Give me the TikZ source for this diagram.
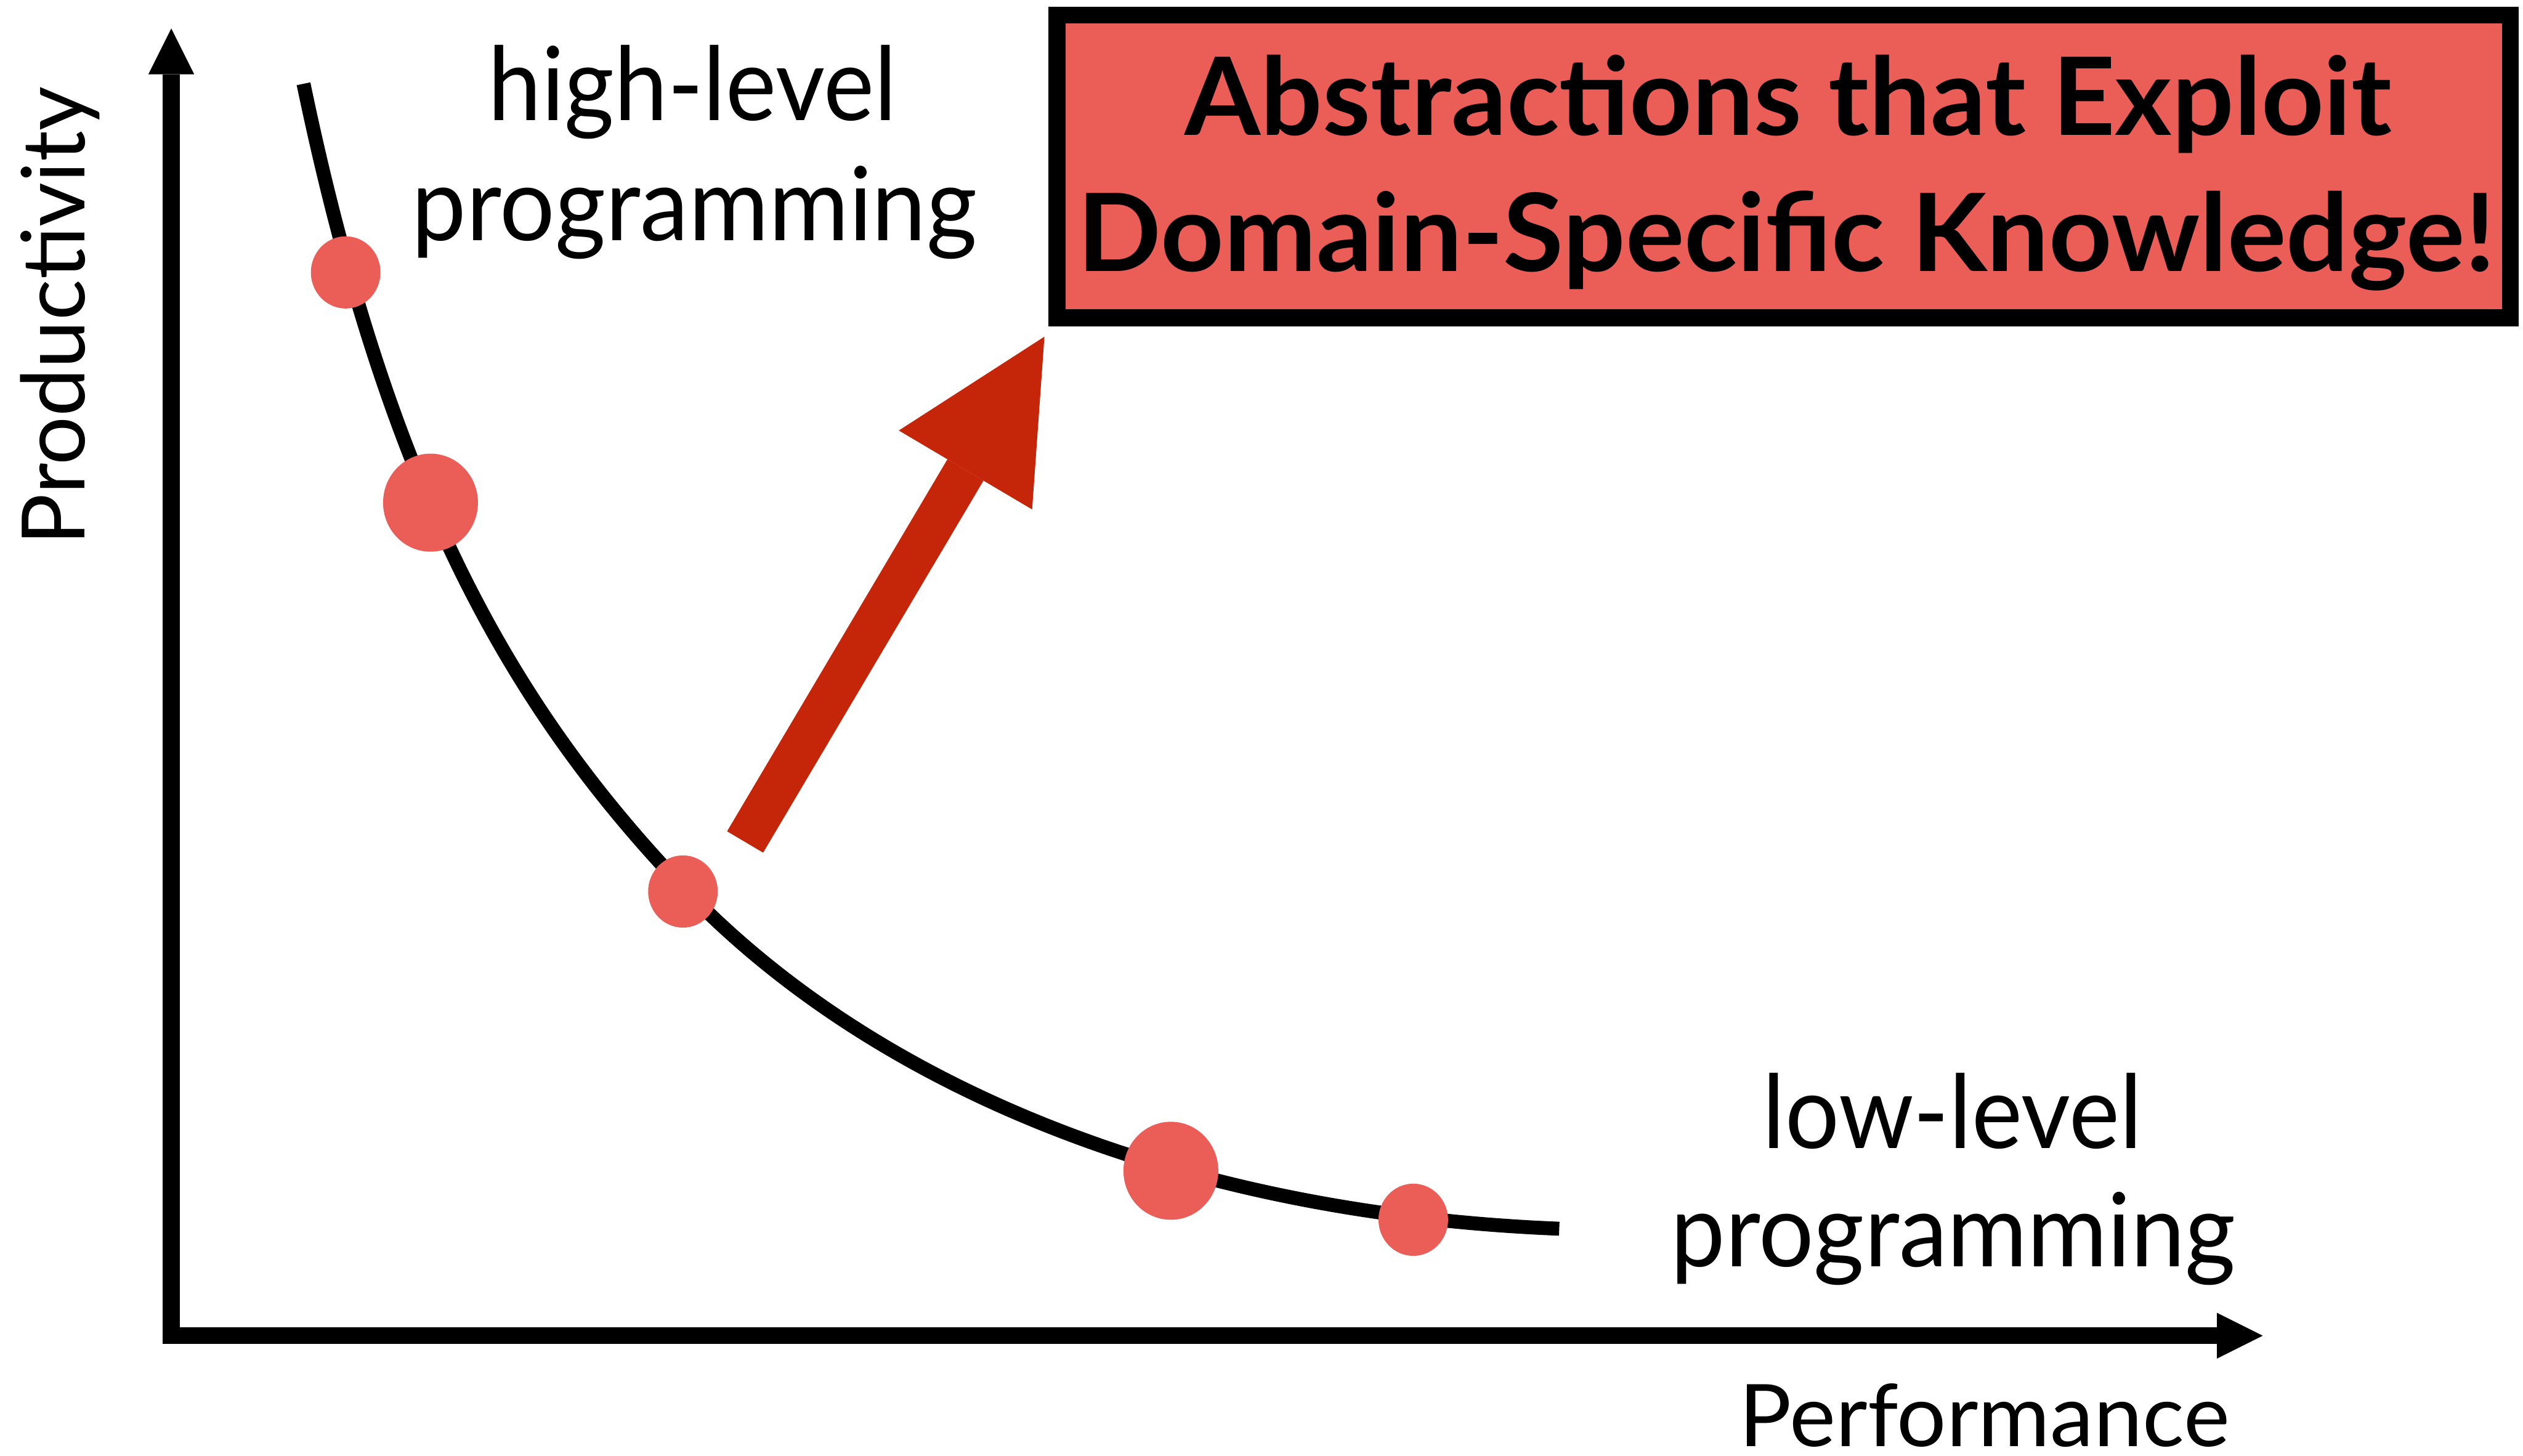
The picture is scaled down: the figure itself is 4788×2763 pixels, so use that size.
\documentclass[tikz,border=0pt]{standalone}
\usepackage{fontspec}
\setmainfont{Lato}
\usepackage{graphicx}
\usetikzlibrary{arrows.meta,shapes.geometric}
\definecolor{dotred}{RGB}{235,94,88}
\definecolor{gainred}{RGB}{197,37,8}
% stretch a text horizontally to a given width, keeping its height
\newcommand\fitto[2]{\resizebox{#1}{\height}{#2}}
\begin{document}
\begin{tikzpicture}[x=1pt,y=-1pt,
  axis/.style={line width=32pt, line join=miter,
    >={Triangle[length=87pt,width=87pt,line width=0pt]}, <->},
  tradeoff/.style={line width=26.5pt, line cap=butt},
  dotsmall/.style={ellipse, fill=dotred, inner sep=0pt,
    minimum width=132pt, minimum height=137pt},
  dotbig/.style={ellipse, fill=dotred, inner sep=0pt,
    minimum width=180pt, minimum height=186pt},
  gain/.style={draw=gainred, line width=79.5pt, line cap=butt,
    -{Triangle[length=294pt,width=294pt,line width=0pt,fill=gainred]}},
  callout/.style={draw=black, fill=dotred, line width=32pt,
    minimum width=2758pt, minimum height=574pt, inner sep=0pt},
  lbl/.style={anchor=base, inner sep=0pt},
]
\useasboundingbox (0,0) rectangle (4788,2763);

% axes
\coordinate (ytip) at (325,54);
\coordinate (origin) at (325,2535);
\coordinate (xtip) at (4294,2535);
\draw[axis] (ytip) -- (origin) -- (xtip);

% productivity / performance trade-off curve (two cubic pieces)
\coordinate (cStart) at (576,159);
\coordinate (cMid) at (1296,1684);
\coordinate (cEnd) at (2959,2332);
\draw[tradeoff] (cStart)
  .. controls (741,951) and (981,1353) .. (cMid)
  .. controls (1666,2072) and (2259,2304) .. (cEnd);

% sample points on the curve
\node[dotsmall] (d1) at (656,517) {};
\node[dotbig]   (d2) at (817,954) {};
\node[dotsmall] (d3) at (1296,1692) {};
\node[dotbig]   (d4) at (2222,2222) {};
\node[dotsmall] (d5) at (2682,2315) {};

% call-out box
\node[callout] (goal) at (3385,316) {};
\node[lbl] (goal1) at (3394,256)
  {\fontsize{205}{240}\selectfont\bfseries\fitto{2290pt}{Abstractions that Exploit}};
\node[lbl] (goal2) at (3390,515)
  {\fontsize{205}{240}\selectfont\bfseries\fitto{2690pt}{Domain-Specific Knowledge!}};

% improvement arrow
\coordinate (gainFrom) at (1414,1598);
\coordinate (gainTo) at (1982,639);
\draw[gain] (gainFrom) -- (gainTo);

% labels
\node[lbl] (hl1) at (1314,229) {\fontsize{194}{230}\selectfont\fitto{775pt}{high-level}};
\node[lbl] (hl2) at (1318,456) {\fontsize{194}{230}\selectfont\fitto{1072pt}{programming}};
\node[lbl] (ll1) at (3705,2179) {\fontsize{194}{230}\selectfont\fitto{720pt}{low-level}};
\node[lbl] (ll2) at (3707,2404) {\fontsize{194}{230}\selectfont\fitto{1072pt}{programming}};
\node[lbl] (perf) at (3766,2745) {\fontsize{164}{200}\selectfont\fitto{930pt}{Performance}};
\node[lbl, rotate=90] (prod) at (161,600) {\fontsize{166}{200}\selectfont\fitto{870pt}{Productivity}};
\end{tikzpicture}
\end{document}
